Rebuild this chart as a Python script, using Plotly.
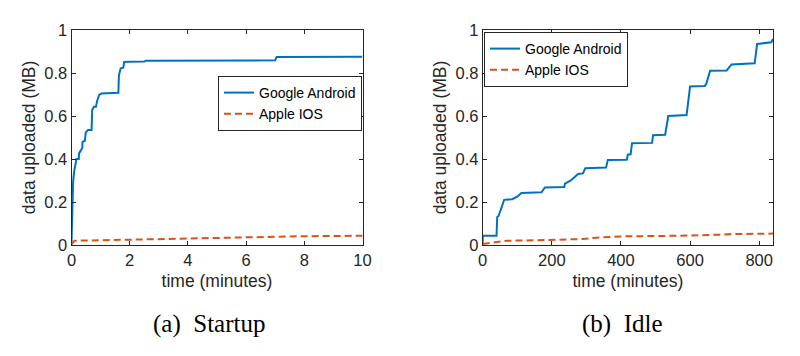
import plotly.graph_objects as go

# ---------------- data ----------------
# (a) Startup, time in minutes, data in MB
startup_android_t = [0, 0.01, 0.03, 0.056, 0.09, 0.137, 0.17, 0.25, 0.26, 0.32, 0.37, 0.38,
                     0.46, 0.49, 0.57, 0.69, 0.71, 0.77, 0.84, 0.88, 0.95, 1.03, 1.32, 1.61,
                     1.63, 1.69, 1.78, 1.81, 2.0, 2.5, 2.55, 4.8, 7.0, 7.05, 10]
startup_android_mb = [0.009, 0.093, 0.217, 0.295, 0.341, 0.387, 0.40, 0.40, 0.426, 0.44, 0.45, 0.48,
                      0.485, 0.524, 0.535, 0.535, 0.628, 0.643, 0.643, 0.67, 0.698, 0.705, 0.705, 0.708,
                      0.79, 0.822, 0.825, 0.851, 0.852, 0.853, 0.857, 0.858, 0.859, 0.875, 0.876]
startup_ios_t = [0, 0.05, 0.1, 1, 2, 3, 4, 5, 6, 7, 8, 9, 10]
startup_ios_mb = [0.003, 0.015, 0.02, 0.022, 0.025, 0.028, 0.031, 0.034, 0.037, 0.039, 0.041, 0.042, 0.043]

# (b) Idle
idle_android_t = [0, 0, 40, 42, 46, 52, 62, 85, 100, 112, 170, 180, 236, 238, 255, 276, 290,
                  297, 357, 362, 417, 420, 428, 432, 490, 493, 528, 537, 590, 600, 643, 647,
                  658, 706, 720, 787, 794, 835, 840]
idle_android_mb = [0.005, 0.043, 0.043, 0.13, 0.135, 0.16, 0.21, 0.213, 0.225, 0.242, 0.245, 0.268,
                   0.27, 0.285, 0.30, 0.33, 0.333, 0.357, 0.36, 0.395, 0.397, 0.42, 0.422, 0.473,
                   0.475, 0.511, 0.513, 0.60, 0.605, 0.737, 0.74, 0.75, 0.81, 0.812, 0.84, 0.845,
                   0.935, 0.943, 0.958]
idle_ios_t = [0, 20, 50, 70, 185, 243, 290, 329, 397, 570, 650, 686, 720, 840]
idle_ios_mb = [0.005, 0.01, 0.017, 0.02, 0.023, 0.026, 0.028, 0.034, 0.04, 0.043, 0.045, 0.048, 0.051, 0.053]

series_names = ["Google Android", "Apple IOS"]
captions = ["(a)  Startup", "(b)  Idle"]
x_ticks_startup = [0, 2, 4, 6, 8, 10]
x_ticks_idle = [0, 200, 400, 600, 800]
y_ticks = [0, 0.2, 0.4, 0.6, 0.8, 1]

BLUE = "#0072BD"
ORANGE = "#D95319"
AX = "#262626"
SANS = "Liberation Sans, Arial, Helvetica, sans-serif"
SERIF = "Liberation Serif, Times New Roman, serif"

W, H = 800, 356

def px_x(p):
    return p / W

def px_y(p):
    return (H - p) / H

fig = go.Figure()

fig.add_trace(go.Scatter(x=startup_android_t, y=startup_android_mb, mode="lines",
                         name=series_names[0], line=dict(color=BLUE, width=2),
                         xaxis="x", yaxis="y", legend="legend"))
fig.add_trace(go.Scatter(x=startup_ios_t, y=startup_ios_mb, mode="lines",
                         name=series_names[1], line=dict(color=ORANGE, width=2, dash="7px,4px"),
                         xaxis="x", yaxis="y", legend="legend"))
fig.add_trace(go.Scatter(x=idle_android_t, y=idle_android_mb, mode="lines",
                         name=series_names[0], line=dict(color=BLUE, width=2),
                         xaxis="x2", yaxis="y2", legend="legend2"))
fig.add_trace(go.Scatter(x=idle_ios_t, y=idle_ios_mb, mode="lines",
                         name=series_names[1], line=dict(color=ORANGE, width=2, dash="7px,4px"),
                         xaxis="x2", yaxis="y2", legend="legend2"))

axis_common = dict(
    showline=True, linecolor=AX, linewidth=1, mirror="ticks",
    ticks="inside", ticklen=4, tickcolor=AX, tickwidth=1,
    showgrid=False, zeroline=False,
    tickfont=dict(family=SANS, size=16.5, color=AX),
    title_font=dict(family=SANS, size=17.5, color=AX),
    automargin=False,
)

ydom = [px_y(245), px_y(30)]

legend_common = dict(xanchor="left", yanchor="top",
                     bgcolor="white", bordercolor=AX, borderwidth=1,
                     font=dict(family=SANS, size=14, color="black"),
                     tracegroupgap=0, itemwidth=30)

fig.update_layout(
    width=W, height=H,
    margin=dict(l=0, r=0, t=0, b=0),
    paper_bgcolor="white", plot_bgcolor="white",
    xaxis=dict(domain=[px_x(71.5), px_x(362.5)], range=[0, 10], tickvals=x_ticks_startup,
               anchor="y", title=dict(text="time (minutes)", standoff=6), **axis_common),
    yaxis=dict(domain=ydom, range=[0, 1], tickvals=y_ticks, anchor="x",
               title=dict(text="data uploaded (MB)", standoff=4), **axis_common),
    xaxis2=dict(domain=[px_x(482.7), px_x(773)], range=[0, 840], tickvals=x_ticks_idle,
                anchor="y2", title=dict(text="time (minutes)", standoff=6), **axis_common),
    yaxis2=dict(domain=ydom, range=[0, 1], tickvals=y_ticks, anchor="x2",
                title=dict(text="data uploaded (MB)", standoff=4), **axis_common),
    legend=dict(x=px_x(218), y=px_y(76), **legend_common),
    legend2=dict(x=px_x(484), y=px_y(32), **legend_common),
    showlegend=True,
)

fig.add_annotation(text=captions[0], x=px_x(209), y=px_y(324), xref="paper", yref="paper",
                   showarrow=False, xanchor="center", yanchor="middle",
                   font=dict(family=SERIF, size=25, color="black"))
fig.add_annotation(text=captions[1], x=px_x(622), y=px_y(324), xref="paper", yref="paper",
                   showarrow=False, xanchor="center", yanchor="middle",
                   font=dict(family=SERIF, size=25, color="black"))

fig.write_html("out.html", config={"displayModeBar": False},
               post_script="document.body.style.margin='0px';")
